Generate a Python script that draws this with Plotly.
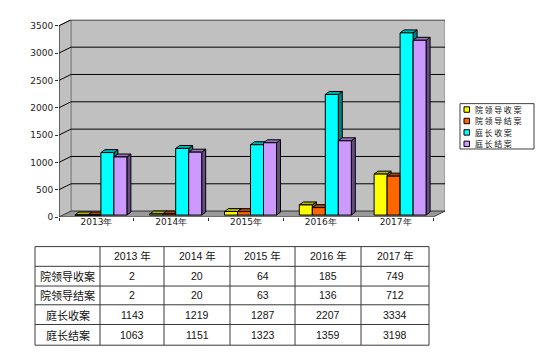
import plotly.graph_objects as go

# ---------------- data ----------------
years = ["2013年", "2014年", "2015年", "2016年", "2017年"]
table_years = ["2013 年", "2014 年", "2015 年", "2016 年", "2017 年"]
series_names = ["院领导收案", "院领导结案", "庭长收案", "庭长结案"]
leader_received = [2, 20, 64, 185, 749]
leader_closed = [2, 20, 63, 136, 712]
chief_received = [1143, 1219, 1287, 2207, 3334]
chief_closed = [1063, 1151, 1323, 1359, 3198]
y_ticks = [0, 500, 1000, 1500, 2000, 2500, 3000, 3500]

series_values = [leader_received, leader_closed, chief_received, chief_closed]

# ---------------- styles ----------------
front_colors = ["#FFFF00", "#FF6600", "#00FFFF", "#CC99FF"]
side_colors = ["#808000", "#803300", "#008080", "#664D80"]
top_colors = ["#B3B300", "#B34700", "#00B3B3", "#9973BF"]

W, H = 550, 356
FL, FR, FB = 51, 425, 212      # front floor edge (px)
TOP_TICK_PX = 18               # pixel row of the top tick on the front axis
PLOT_TOP = 12
WDX, WDY = 12, 6               # wall depth (px)
XPX = (FR - FL) / len(years)
YPX = (FB - TOP_TICK_PX) / y_ticks[-1]


def ux(px):
    return px / XPX


def uy(px):
    return px / YPX


def py(px):
    return 1 - px / H


def pxx(px):
    return px / W


x_range = [-0.5, len(years) - 0.5 + ux(WDX)]
y_range = [0, uy(FB - PLOT_TOP)]
plot_right_px = FL + (x_range[1] - x_range[0]) * XPX

BAR_W = ux(13)
BSX, BSY = ux(4.5), uy(2)
BDX, BDY = ux(4), uy(3)

fig = go.Figure()

# ---------------- walls & floor ----------------
x0, x1 = -0.5, len(years) - 0.5
wx, wy = ux(WDX), uy(WDY)
ytop = y_ticks[-1]
shapes = []
shapes.append(dict(type="path", xref="x", yref="y", layer="below",
                   path=f"M{x0+wx},{wy} L{x1+wx},{wy} L{x1+wx},{ytop+wy} L{x0+wx},{ytop+wy} Z",
                   fillcolor="#C0C0C0", line=dict(color="#808080", width=1)))
shapes.append(dict(type="path", xref="x", yref="y", layer="below",
                   path=f"M{x0},0 L{x0+wx},{wy} L{x0+wx},{ytop+wy} L{x0},{ytop} Z",
                   fillcolor="#C0C0C0", line=dict(color="#808080", width=1)))
for v in y_ticks[1:]:
    shapes.append(dict(type="line", xref="x", yref="y", layer="below",
                       x0=x0 + wx, x1=x1 + wx, y0=v + wy, y1=v + wy,
                       line=dict(color="#000000", width=1)))
    shapes.append(dict(type="line", xref="x", yref="y", layer="below",
                       x0=x0, x1=x0 + wx, y0=v, y1=v + wy,
                       line=dict(color="#000000", width=1)))
shapes.append(dict(type="path", xref="x", yref="y", layer="below",
                   path=f"M{x0},0 L{x1},0 L{x1+wx},{wy} L{x0+wx},{wy} Z",
                   fillcolor="#999999", line=dict(color="#404040", width=1)))
shapes.append(dict(type="line", xref="x", yref="y", layer="below",
                   x0=x0, x1=x0, y0=0, y1=ytop,
                   line=dict(color="#202020", width=1)))

# ---------------- 3D bars ----------------
for j, vals in enumerate(series_values):
    fx, fy, sx, sy, tx, ty = [], [], [], [], [], []
    for i, v in enumerate(vals):
        left = i + BSX + (j - 2) * BAR_W
        right = left + BAR_W
        b = BSY
        t = BSY + v
        fx += [left, right, right, left, left, None]
        fy += [b, b, t, t, b, None]
        sx += [right, right + BDX, right + BDX, right, right, None]
        sy += [b, b + BDY, t + BDY, t, b, None]
        tx += [left, right, right + BDX, left + BDX, left, None]
        ty += [t, t, t + BDY, t + BDY, t, None]
    for xs, ys, col in ((sx, sy, side_colors[j]), (tx, ty, top_colors[j]), (fx, fy, front_colors[j])):
        fig.add_trace(go.Scatter(x=xs, y=ys, mode="lines", fill="toself",
                                 fillcolor=col, line=dict(color="#000000", width=1),
                                 name=series_names[j], showlegend=False,
                                 hoverinfo="skip"))

annotations = []

# ---------------- data table (grid + text) ----------------
col_edges = [27, 92, 156, 222, 287, 353, 421]
row_edges = [242, 262, 282, 301, 321, 342]
for xe in col_edges:
    shapes.append(dict(type="line", xref="paper", yref="paper",
                       x0=pxx(xe), x1=pxx(xe), y0=py(row_edges[0]), y1=py(row_edges[-1]),
                       line=dict(color="#3A3A3A", width=1)))
for ye in row_edges:
    shapes.append(dict(type="line", xref="paper", yref="paper",
                       x0=pxx(col_edges[0]), x1=pxx(col_edges[-1]), y0=py(ye), y1=py(ye),
                       line=dict(color="#3A3A3A", width=1)))


def cell_center(r, c):
    return (pxx((col_edges[c] + col_edges[c + 1]) / 2),
            py((row_edges[r] + row_edges[r + 1]) / 2))


num_font = dict(family="Liberation Sans, Noto Sans CJK SC", size=10.5, color="#111")
lab_font = dict(family="Noto Sans CJK SC", size=11, color="#111")
for c, yl in enumerate(table_years):
    cx, cy = cell_center(0, c + 1)
    annotations.append(dict(xref="paper", yref="paper", x=cx, y=cy, text=yl,
                            showarrow=False, xanchor="center", yanchor="middle", font=num_font))
for r, name in enumerate(series_names):
    cx, cy = cell_center(r + 1, 0)
    annotations.append(dict(xref="paper", yref="paper", x=cx, y=cy, text=name,
                            showarrow=False, xanchor="center", yanchor="middle", font=lab_font))
    for c, v in enumerate(series_values[r]):
        cx, cy = cell_center(r + 1, c + 1)
        annotations.append(dict(xref="paper", yref="paper", x=cx, y=cy, text=str(v),
                                showarrow=False, xanchor="center", yanchor="middle", font=num_font))

# ---------------- manual legend ----------------
lg_x0, lg_x1, lg_y0, lg_y1 = 452, 526, 97, 143
shapes.append(dict(type="rect", xref="paper", yref="paper",
                   x0=pxx(lg_x0), x1=pxx(lg_x1), y0=py(lg_y1), y1=py(lg_y0),
                   fillcolor="white", line=dict(color="#404040", width=1)))
for k, name in enumerate(series_names):
    cy = 103 + k * 11.6
    shapes.append(dict(type="rect", xref="paper", yref="paper",
                       x0=pxx(456), x1=pxx(461.5), y0=py(cy + 2.75), y1=py(cy - 2.75),
                       fillcolor=front_colors[k], line=dict(color="#000000", width=1)))
    annotations.append(dict(xref="paper", yref="paper", x=pxx(465), y=py(cy),
                            xanchor="left", yanchor="middle", showarrow=False,
                            text=f"<span style='letter-spacing:1.6px'>{name}</span>",
                            font=dict(family="Noto Sans CJK SC", size=8, color="#111")))

# bottom rule
shapes.append(dict(type="line", xref="paper", yref="paper", x0=0, x1=1,
                   y0=1.5 / H, y1=1.5 / H, line=dict(color="#333333", width=3)))

fig.update_layout(
    width=W, height=H, autosize=False,
    margin=dict(l=0, r=0, t=0, b=0),
    paper_bgcolor="white", plot_bgcolor="white",
    shapes=shapes, annotations=annotations, showlegend=False,
    xaxis=dict(domain=[FL / W, plot_right_px / W], range=x_range,
               tickvals=list(range(len(years))), ticktext=years,
               showgrid=False, zeroline=False, showline=False, ticks="",
               ticklabelstandoff=-2,
               tickfont=dict(family="DejaVu Sans", size=9, color="#222"),
               minor=dict(tickvals=[k - 0.5 for k in range(len(years) + 1)],
                          ticks="outside", ticklen=3, tickcolor="#333", showgrid=False),
               fixedrange=True),
    yaxis=dict(domain=[(H - FB) / H, (H - PLOT_TOP) / H], range=y_range,
               tickvals=y_ticks, showgrid=False, zeroline=False, showline=False,
               ticks="outside", ticklen=3, tickcolor="#333",
               tickfont=dict(family="DejaVu Sans", size=9, color="#222"),
               fixedrange=True),
)

fig.write_html("out.html")
